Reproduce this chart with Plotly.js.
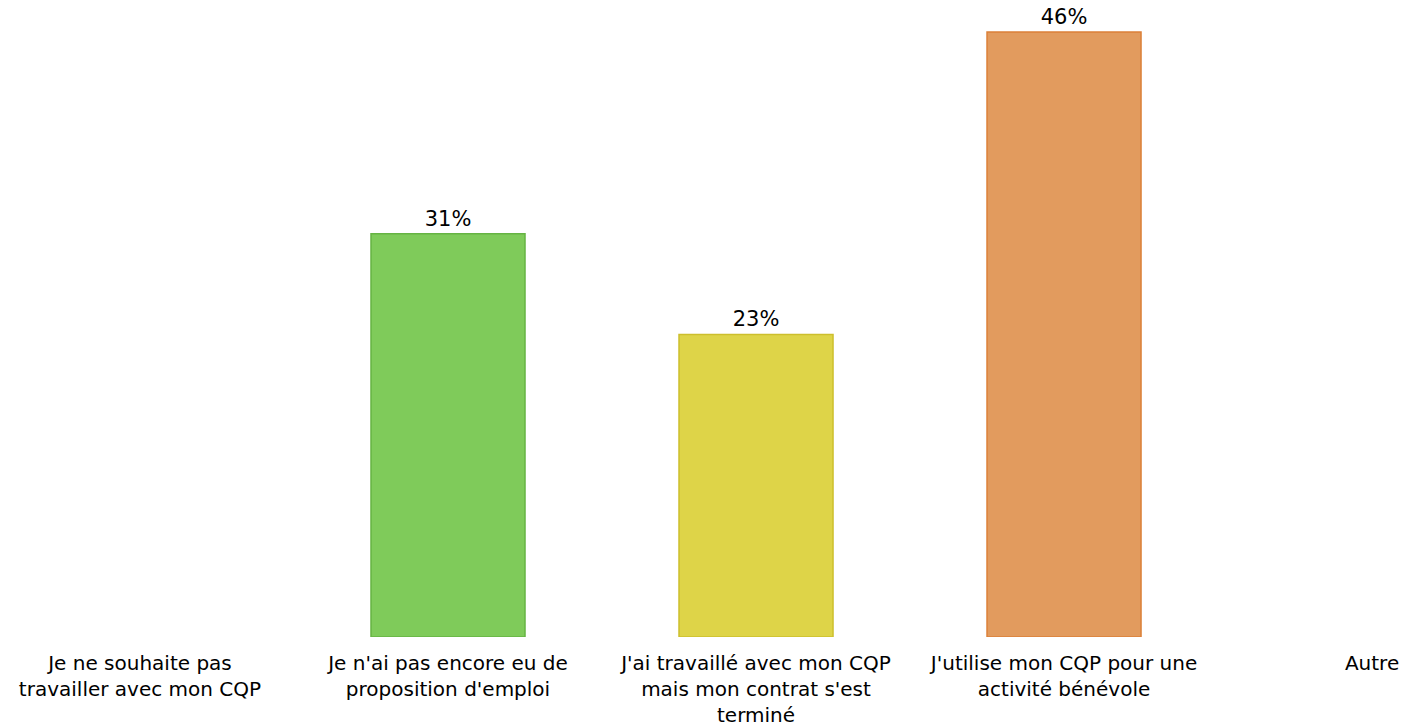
<!DOCTYPE html>
<html>
<head>
<meta charset="utf-8">
<script src="https://cdn.plot.ly/plotly-3.0.1.min.js"></script>
<style>html,body{margin:0;padding:0;background:#fff;}#chart{width:1409px;height:728px;}</style>
</head>
<body>
<div id="chart"></div>
<script>
const categories = [
  "Je ne souhaite pas<br>travailler avec mon CQP",
  "Je n'ai pas encore eu de<br>proposition d'emploi",
  "J'ai travaillé avec mon CQP<br>mais mon contrat s'est<br>terminé",
  "J'utilise mon CQP pour une<br>activité bénévole",
  "Autre"
];
const values = [0, 30.77, 23.08, 46.15, 0];
const fillColors = ["#7fcb5a", "#7fcb5a", "#ded448", "#e29b5e", "#e29b5e"];
const lineColors = ["#66b443", "#66b443", "#cdbf2c", "#dc8038", "#dc8038"];

const labels = values.map(v => v > 0 ? Math.round(v) + "%" : "");
const lineWidths = values.map(v => v > 0 ? 1.5 : 0);

const trace = {
  type: "bar",
  x: categories,
  y: values,
  width: 0.5,
  text: labels,
  textposition: "outside",
  cliponaxis: false,
  textfont: {family: "DejaVu Sans", size: 21, color: "#000"},
  marker: {color: fillColors, line: {color: lineColors, width: lineWidths}},
  hoverinfo: "skip"
};

const layout = {
  width: 1409,
  height: 728,
  margin: {l: 0, r: 0, t: 0, b: 91},
  paper_bgcolor: "#fff",
  plot_bgcolor: "#fff",
  showlegend: false,
  font: {family: "DejaVu Sans", size: 20, color: "#000"},
  xaxis: {
    type: "category",
    range: [-0.4545, 4.12],
    showgrid: false,
    zeroline: false,
    showline: false,
    ticks: "",
    tickangle: 0,
    ticklabelstandoff: 12,
    tickfont: {family: "DejaVu Sans", size: 20, color: "#000"},
    automargin: false
  },
  yaxis: {
    range: [0, 48.6],
    visible: false,
    showgrid: false,
    zeroline: false
  }
};

Plotly.newPlot("chart", [trace], layout, {displayModeBar: false, staticPlot: true});
</script>
</body>
</html>
